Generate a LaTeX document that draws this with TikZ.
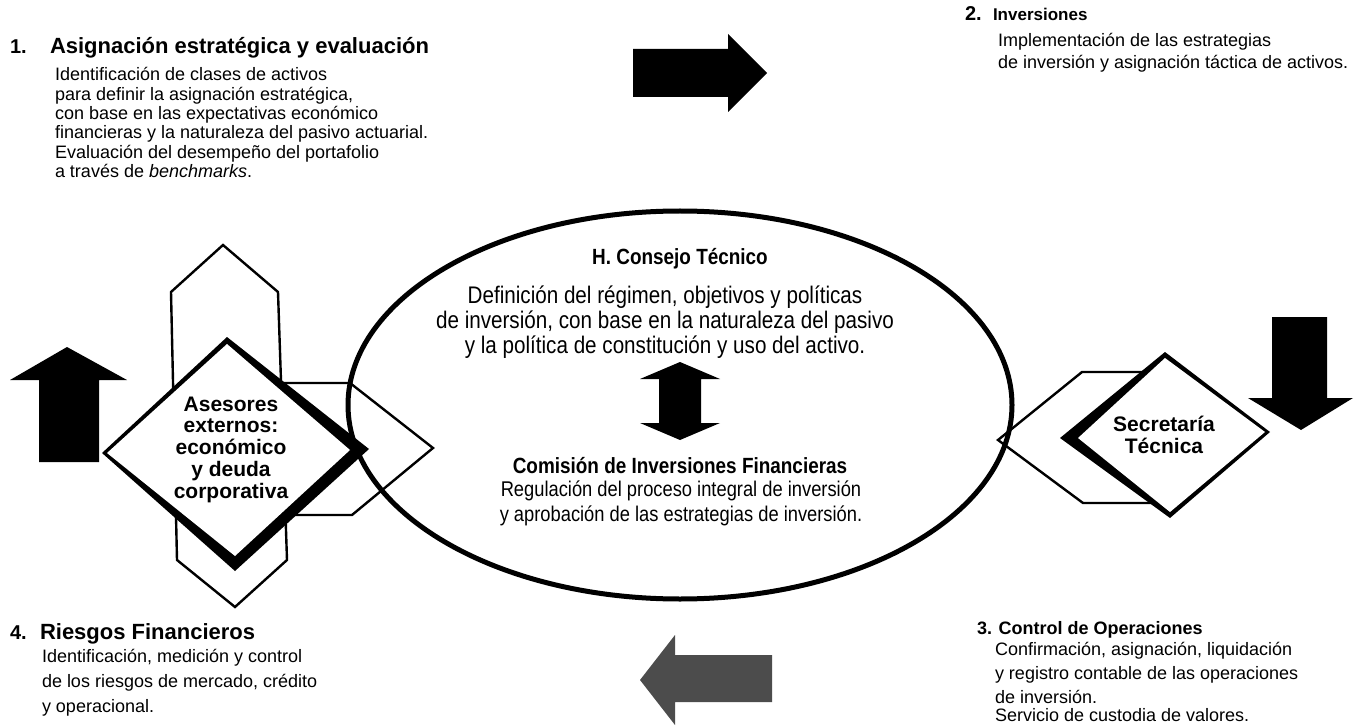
\documentclass[tikz,border=0pt]{standalone}
\usepackage{fontspec}
\setmainfont{Liberation Sans}
\newfontfamily\narrowfont[FakeStretch=0.86]{Liberation Sans}
\begin{document}
\begin{tikzpicture}[x=1pt,y=-1pt]
\tikzset{
  hexa/.style={draw=black, line width=2.4pt, line join=miter},
  blk/.style={fill=black},
  gry/.style={fill=black!70},
  lbl/.style={inner sep=0pt, outer sep=0pt},
  num/.style={lbl, anchor=base west, font=\fontsize{20}{22}\selectfont\bfseries},
  head/.style={lbl, anchor=base west, font=\fontsize{20}{22}\selectfont\bfseries},
  body/.style={lbl, anchor=base west, align=left, font=\fontsize{18}{19.3}\selectfont},
  etext/.style={lbl, anchor=base, align=center, font=\narrowfont\fontsize{23}{25}\selectfont},
  ehead/.style={lbl, anchor=base, align=center, font=\narrowfont\fontsize{22}{25}\selectfont\bfseries},
  dtext/.style={lbl, anchor=base, align=center, font=\fontsize{21}{21.7}\selectfont\bfseries}
}
\useasboundingbox (0,0) rectangle (1357,727);
\fill[white] (0,0) rectangle (1357,727);

% ---------- hexagons (behind) ----------
\draw[hexa] (223,245) -- (278,292) -- (287,560) -- (235,607) -- (177,560) -- (171,292) -- cycle;
\draw[hexa] (433,448) -- (352,515) -- (260,515) -- (200,449) -- (260,383) -- (350,383) -- cycle;
\draw[hexa] (998,440) -- (1082,372) -- (1150,372) -- (1220,440) -- (1160,503) -- (1083,503) -- cycle;

% ---------- central ellipse ----------
\draw[line width=5pt] (680,405) ellipse [x radius=332, y radius=194];

% ---------- left diamond ----------
\fill[blk] (227,337) -- (369,449) -- (235,571) -- (102,453) -- cycle;
\fill[white] (227,344) -- (350,450) -- (235,556) -- (107,453) -- cycle;
% (multi-line nodes: base anchor = baseline of the last line)
\node[dtext] (ase) at (231,498) {Asesores\\externos:\\económico\\y deuda\\corporativa};

% ---------- right diamond ----------
\fill[blk] (1165,352) -- (1270,432) -- (1170,518) -- (1060,438) -- cycle;
\fill[white] (1165,358) -- (1265,432) -- (1170,512) -- (1078,438) -- cycle;
\node[dtext] (sec) at (1164,453) {Secretaría\\Técnica};

% ---------- block arrows ----------
\fill[blk] (633,49) -- (728,49) -- (728,34) -- (767,73) -- (728,112) -- (728,97) -- (633,97) -- cycle;
\fill[blk] (1272,317) -- (1327,317) -- (1327,398) -- (1353,398) -- (1301,430) -- (1248,398) -- (1272,398) -- cycle;
\fill[gry] (772,655) -- (675,655) -- (675,635) -- (640,680) -- (675,725) -- (675,702) -- (772,702) -- cycle;
\fill[blk] (39,462) -- (39,380) -- (10,380) -- (67,347) -- (127,380) -- (99,380) -- (99,462) -- cycle;
\fill[blk] (680,362) -- (720,379) -- (701,379) -- (701,423) -- (720,423) -- (680,440)
  -- (640,423) -- (659,423) -- (659,379) -- (640,379) -- cycle;

% ---------- texts in ellipse ----------
\node[ehead] (ct) at (680,265) {H. Consejo Técnico};
\node[etext, font=\narrowfont\fontsize{24}{25}\selectfont] (cd) at (665,353) {Definición del régimen, objetivos y políticas\\de inversión, con base en la naturaleza del pasivo\\y la política de constitución y uso del activo.};
\node[ehead] (cm) at (680,473) {Comisión de Inversiones Financieras};
\node[etext, font=\narrowfont\fontsize{21.3}{25}\selectfont] (cr) at (681,521) {Regulación del proceso integral de inversión\\y aprobación de las estrategias de inversión.};

% ---------- block 1 ----------
\node[num] (n1) at (10,54) {1.};
\node[head, font=\fontsize{22}{22}\selectfont\bfseries] (h1) at (50,54) {Asignación estratégica y evaluación};
\node[body] (b1) at (55,177.5) {Identificación de clases de activos\\para definir la asignación estratégica,\\con base en las expectativas económico\\financieras y la naturaleza del pasivo actuarial.\\Evaluación del desempeño del portafolio\\a través de \textit{benchmarks}.};

% ---------- block 2 ----------
\node[num] (n2) at (965,21) {2.};
\node[head, font=\fontsize{17}{22}\selectfont\bfseries] (h2) at (993,21) {Inversiones};
\node[body, font=\fontsize{18}{22}\selectfont] (b2) at (998,69) {Implementación de las estrategias\\de inversión y asignación táctica de activos.};

% ---------- block 3 ----------
\node[head, font=\fontsize{18}{22}\selectfont\bfseries] (h3) at (977,634) {3. Control de Operaciones};
\node[body, font=\fontsize{18}{24}\selectfont] (b3) at (995,721) {Confirmación, asignación, liquidación\\y registro contable de las operaciones\\de inversión.\\[-6pt]Servicio de custodia de valores.};

% ---------- block 4 ----------
\node[num] (n4) at (10,639) {4.};
\node[head, font=\fontsize{22}{22}\selectfont\bfseries] (h4) at (40,639) {Riesgos Financieros};
\node[body, font=\fontsize{18}{25}\selectfont] (b4) at (42,712) {Identificación, medición y control\\de los riesgos de mercado, crédito\\y operacional.};
\end{tikzpicture}
\end{document}
